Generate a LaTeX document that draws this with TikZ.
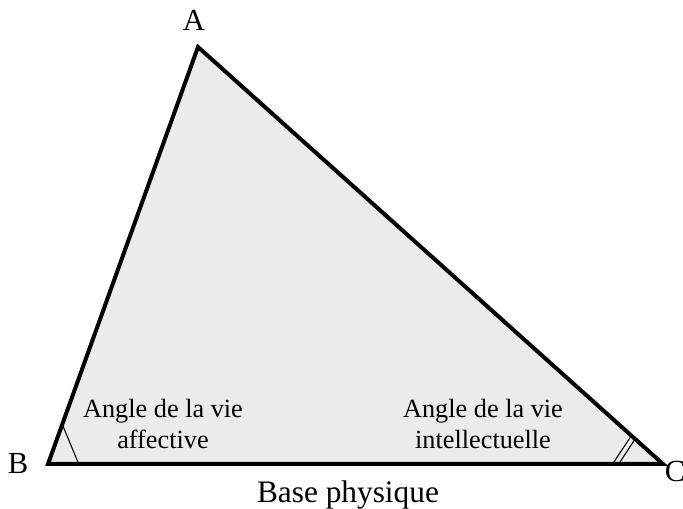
\documentclass[tikz,border=0pt]{standalone}
\usepackage{fontspec}
\setmainfont{Liberation Serif}
\usetikzlibrary{calc}
\definecolor{trifill}{HTML}{EBEBEB}

\begin{document}
\begin{tikzpicture}[x=0.75pt,y=-0.75pt]
  \useasboundingbox (0,0) rectangle (683,509);
  % vertices
  \coordinate (A) at (198,47);
  \coordinate (B) at (48,464);
  \coordinate (C) at (663,464);
  % triangle
  \filldraw[fill=trifill,line width=3pt,line join=miter] (A) -- (B) -- (C) -- cycle;
  % angle marks
  \draw[line width=0.8pt] ($(B)!0.095!(A)$) -- ($(B)!0.05!(C)$);
  \draw[line width=0.8pt] ($(C)!0.068!(A)$) -- ($(C)!0.082!(B)$);
  \draw[line width=0.8pt] ($(C)!0.06!(A)$) -- ($(C)!0.072!(B)$);
  % vertex labels
  \node[font=\fontsize{23}{26}\selectfont,anchor=base,inner sep=0pt] (labA) at (194,31) {A};
  \node[font=\fontsize{23}{26}\selectfont,anchor=base,inner sep=0pt] (labB) at (18,474) {B};
  \node[font=\fontsize{23}{26}\selectfont,anchor=base,inner sep=0pt] (labC) at (675,482) {C};
  % angle texts
  \node[font=\fontsize{19.7}{23}\selectfont,align=center] (affect) at (163,424) {Angle de la vie\\ affective};
  \node[font=\fontsize{19.7}{23}\selectfont,align=center] (intel) at (483,424) {Angle de la vie\\ intellectuelle};
  % base
  \node[font=\fontsize{23.5}{27}\selectfont,anchor=base,inner sep=0pt] (base) at (348,503) {Base physique};
\end{tikzpicture}
\end{document}
